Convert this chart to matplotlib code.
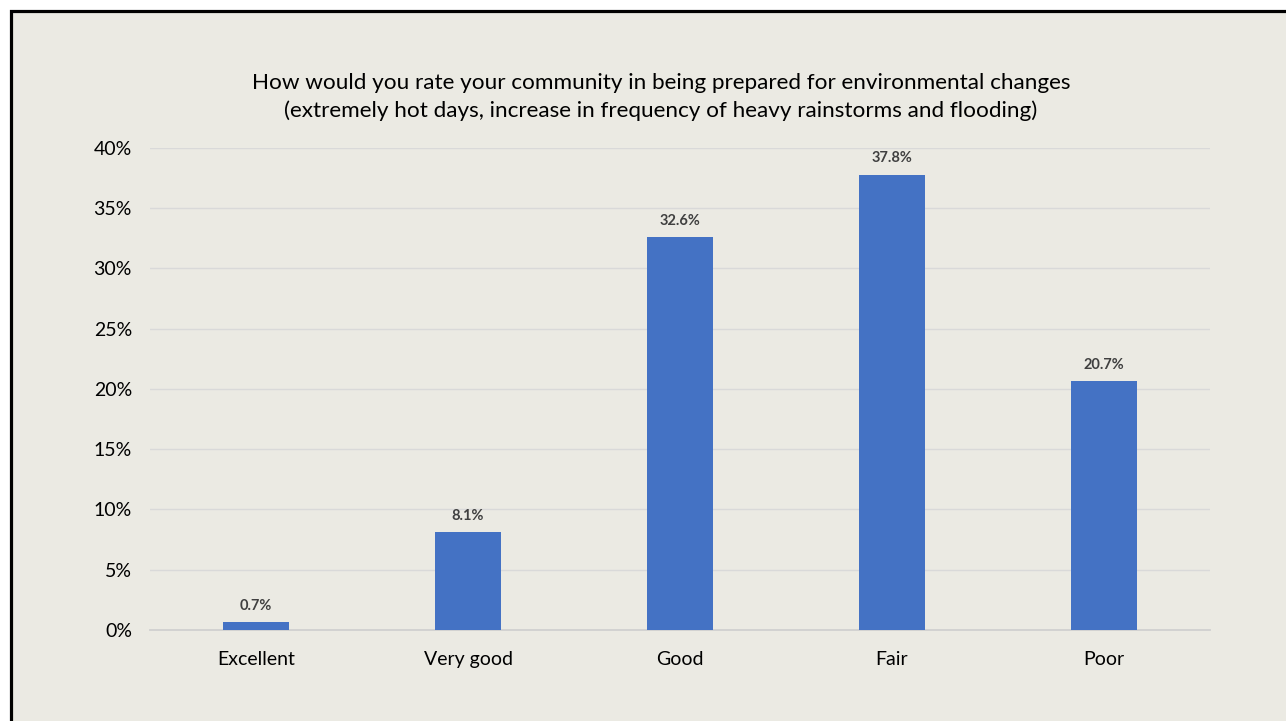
import matplotlib.pyplot as plt
from matplotlib.patches import Rectangle
from matplotlib.ticker import FuncFormatter

categories = ['Excellent', 'Very good', 'Good', 'Fair', 'Poor']
shares = [0.7, 8.1, 32.6, 37.8, 20.7]
title = ('How would you rate your community in being prepared for environmental changes\n'
         '(extremely hot days, increase in frequency of heavy rainstorms and flooding)')

bg = '#EBEAE3'
bar_color = '#4472C4'

plt.rcParams['font.family'] = ['Lato', 'DejaVu Sans']

fig = plt.figure(figsize=(12.86, 7.21), dpi=100)
fig.patch.set_facecolor('white')

# framed panel, only top and left edges fall inside the canvas
W, H = 1286, 721
frame = Rectangle((10.5 / W, -0.1), 1.2, 1.1 - 10.5 / H, transform=fig.transFigure,
                  facecolor=bg, edgecolor='black', linewidth=2.3, zorder=-5)
fig.patches.append(frame)

ax = fig.add_axes([150 / W, 91 / H, 1060 / W, 482 / H])
ax.set_facecolor('none')

x = range(len(categories))
bars = ax.bar(x, shares, width=0.316, color=bar_color, zorder=3)

for xi, v in zip(x, shares):
    ax.text(xi, v + 0.75, f'{v:.1f}%', ha='center', va='bottom', fontsize=10.5,
            fontweight='bold', color='#404040', zorder=4)

ax.set_xlim(-0.5, len(categories) - 0.5)
ax.set_ylim(0, 40)
ax.set_yticks(range(0, 41, 5))
ax.yaxis.set_major_formatter(FuncFormatter(lambda v, p: f'{v:.0f}%'))
ax.set_xticks(list(x))
ax.set_xticklabels(categories)
ax.tick_params(axis='both', length=0, labelsize=14, colors='black')
ax.tick_params(axis='y', pad=13)
ax.tick_params(axis='x', pad=15)

ax.grid(axis='y', color='#D9D9D9', linewidth=1, zorder=0)
for s in ['top', 'right', 'left']:
    ax.spines[s].set_visible(False)
ax.spines['bottom'].set_color('#D0D0D0')
ax.spines['bottom'].set_linewidth(1.3)

fig.text(661 / W, 1 - 97 / H, title, ha='center', va='center', fontsize=16.2,
         linespacing=1.45, color='black')

fig.savefig('out.png', dpi=100, facecolor=fig.get_facecolor())
